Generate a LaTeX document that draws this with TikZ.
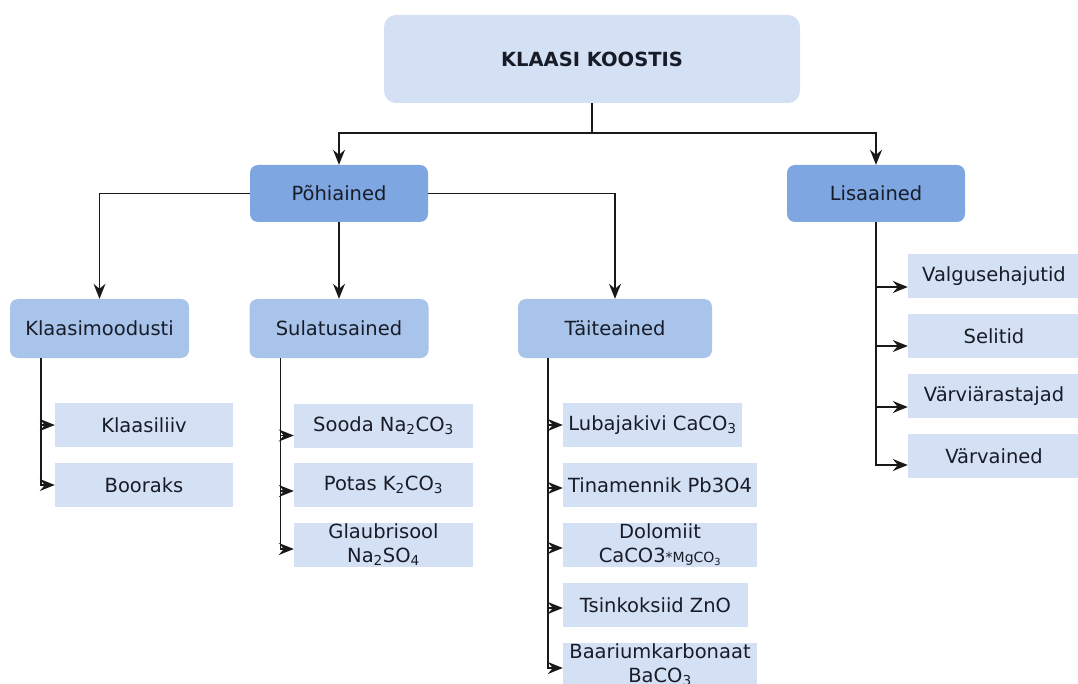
\documentclass[tikz,border=0pt]{standalone}
\usepackage{fontspec}
\setmainfont{DejaVu Sans}
\usetikzlibrary{arrows.meta}

\definecolor{palesky}{HTML}{D4E1F4}
\definecolor{midsky}{HTML}{A9C4EB}
\definecolor{deepsky}{HTML}{7EA6E0}
\definecolor{inkgray}{HTML}{181C28}

\begin{document}
\begin{tikzpicture}[x=1pt,y=-1pt,
  every node/.style={font=\fontsize{19.5}{24}\selectfont,text=inkgray,align=center,inner sep=0pt},
  topbox/.style={fill=palesky,rounded corners=12pt,minimum width=416pt,minimum height=88pt},
  headbox/.style={fill=deepsky,rounded corners=8pt,minimum width=178pt,minimum height=57pt},
  groupbox/.style={fill=midsky,rounded corners=8pt,minimum height=59pt},
  leafbox/.style={fill=palesky,minimum height=44pt},
  arr/.style={draw=black!90,line width=1.4pt,-{Stealth[length=15pt,width=12pt,inset=5pt]}}]

\clip (0,0) rectangle (1078,684);

\node[topbox] (koostis) at (592,59) {\textbf{KLAASI KOOSTIS}};

\node[headbox] (pohi) at (339,193.5) {Põhiained};
\node[headbox] (lisa) at (876,193.5) {Lisaained};

\node[groupbox,minimum width=179pt] (modus) at (99.5,328.5) {Klaasimoodusti};
\node[groupbox,minimum width=179pt] (sulat) at (339,328.5) {Sulatusained};
\node[groupbox,minimum width=194pt] (taite) at (615,328.5) {Täiteained};

\node[leafbox,minimum width=178pt] (liiv) at (144,425) {Klaasiliiv};
\node[leafbox,minimum width=178pt] (boor) at (144,485) {Booraks};

\node[leafbox,minimum width=179pt] (sooda) at (383.5,425.5) {Sooda Na\textsubscript{2}CO\textsubscript{3}};
\node[leafbox,minimum width=179pt] (potas) at (383.5,485) {Potas K\textsubscript{2}CO\textsubscript{3}};
\node[leafbox,minimum width=179pt] (glaub) at (383.5,545) {Glaubrisool\\Na\textsubscript{2}SO\textsubscript{4}};

\node[leafbox,minimum width=179pt] (luba) at (652.5,425) {Lubajakivi CaCO\textsubscript{3}};
\node[leafbox,minimum width=194pt] (tina) at (660,485) {Tinamennik Pb3O4};
\node[leafbox,minimum width=194pt] (dolo) at (660,545) {Dolomiit\\CaCO3{\fontsize{14}{14}\selectfont *MgCO\textsubscript{3}}};
\node[leafbox,minimum width=185pt] (tsink) at (655.5,605) {Tsinkoksiid ZnO};
\node[leafbox,minimum width=194pt] (baar) at (660,665) {Baariumkarbonaat\\BaCO\textsubscript{3}};

\node[leafbox,minimum width=172pt] (valgus) at (994,276) {Valgusehajutid};
\node[leafbox,minimum width=172pt] (selit) at (994,336) {Selitid};
\node[leafbox,minimum width=172pt] (varvi) at (994,396) {Värviärastajad};
\node[leafbox,minimum width=172pt] (varv) at (994,456) {Värvained};

\draw[arr] (koostis.south) -- ++(0,30) -| (pohi.north);
\draw[arr] (koostis.south) -- ++(0,30) -| (lisa.north);

\draw[arr] (pohi.west) -| (modus.north);
\draw[arr] (pohi.south) -- (sulat.north);
\draw[arr] (pohi.east) -| (taite.north);

\draw[arr] ([xshift=31pt]modus.south west) |- (liiv.west);
\draw[arr] ([xshift=31pt]modus.south west) |- (boor.west);

\draw[arr] ([xshift=31pt]sulat.south west) |- ([yshift=-10pt]sooda.west);
\draw[arr] ([xshift=31pt]sulat.south west) |- ([yshift=-6pt]potas.west);
\draw[arr] ([xshift=31pt]sulat.south west) |- ([yshift=-4pt]glaub.west);

\draw[arr] ([xshift=30pt]taite.south west) |- (luba.west);
\draw[arr] ([xshift=30pt]taite.south west) |- ([yshift=-3pt]tina.west);
\draw[arr] ([xshift=30pt]taite.south west) |- ([yshift=-3pt]dolo.west);
\draw[arr] ([xshift=30pt]taite.south west) |- ([yshift=-3pt]tsink.west);
\draw[arr] ([xshift=30pt]taite.south west) |- ([yshift=-3pt]baar.west);

\draw[arr] (lisa.south) |- ([yshift=-11pt]valgus.west);
\draw[arr] (lisa.south) |- ([yshift=-10pt]selit.west);
\draw[arr] (lisa.south) |- ([yshift=-11pt]varvi.west);
\draw[arr] (lisa.south) |- ([yshift=-9pt]varv.west);

\end{tikzpicture}
\end{document}
